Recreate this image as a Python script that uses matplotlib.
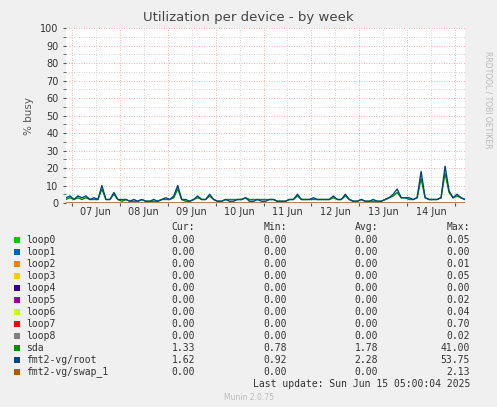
import matplotlib.pyplot as plt
import matplotlib.dates as mdates
from datetime import datetime, timedelta

start = datetime(2025, 6, 6, 21, 0)
root = [3, 4, 2, 4, 3, 4, 2, 3, 2, 10, 2, 2, 6, 2, 2, 2, 1, 2, 1, 2, 1, 1, 2, 1, 2, 3, 2, 4, 10, 2, 2, 1, 2, 4, 2, 2,
        5, 2, 1, 1, 2, 1, 1, 2, 2, 3, 1, 1, 2, 1, 1, 2, 2, 1, 1, 1, 2, 2, 5, 2, 2, 2, 3, 2, 2, 2, 2, 4, 2, 2, 5, 2,
        1, 1, 2, 1, 1, 2, 1, 1, 2, 3, 5, 8, 3, 3, 3, 2, 3, 18, 3, 2, 2, 2, 3, 21, 7, 3, 5, 3, 2]
sda = [2, 3, 2, 3, 2, 3, 2, 2, 2, 8, 2, 2, 5, 2, 1, 2, 1, 1, 1, 2, 1, 1, 1, 1, 2, 2, 2, 3, 8, 2, 1, 1, 2, 3, 2, 2,
       4, 2, 1, 1, 2, 2, 2, 2, 2, 3, 2, 2, 2, 2, 2, 2, 2, 1, 1, 1, 2, 2, 4, 2, 2, 2, 2, 2, 2, 2, 2, 3, 2, 2, 4, 2,
       1, 1, 2, 1, 1, 1, 1, 1, 2, 3, 4, 6, 3, 3, 2, 2, 3, 14, 3, 2, 2, 2, 3, 17, 6, 3, 4, 3, 2]
times = [start + timedelta(hours=2 * i) for i in range(len(root))]

names = ["loop0", "loop1", "loop2", "loop3", "loop4", "loop5", "loop6", "loop7", "loop8",
         "sda", "fmt2-vg/root", "fmt2-vg/swap_1"]
colors = ["#00CC00", "#0066B3", "#FF8000", "#FFCC00", "#330099", "#990099", "#CCFF00", "#FF0000",
          "#808080", "#008F00", "#00487D", "#B35A00"]
cur = ["0.00"] * 9 + ["1.33", "1.62", "0.00"]
mins = ["0.00"] * 9 + ["0.78", "0.92", "0.00"]
avgs = ["0.00"] * 9 + ["1.78", "2.28", "0.00"]
maxs = ["0.05", "0.00", "0.01", "0.05", "0.00", "0.02", "0.04", "0.70", "0.02", "41.00", "53.75", "2.13"]

W, H = 497, 407
fig = plt.figure(figsize=(W / 100, H / 100), dpi=100, facecolor="#F0F0F0")
ax = fig.add_axes([66 / W, 1 - 203 / H, (465 - 66) / W, (203 - 28) / H])
ax.set_facecolor("white")

zeros = [0] * len(root)
for n, c in zip(names[:9], colors[:9]):
    ax.plot(times, zeros, color=c, lw=1)
ax.plot(times, sda, color=colors[9], lw=1)
ax.plot(times, root, color=colors[10], lw=1)

ax.set_ylim(0, 100)
ax.set_xlim(start, datetime(2025, 6, 15, 5, 0))
ax.set_yticks(range(0, 101, 10))
ax.set_yticks(range(0, 101, 5), minor=True)
# red grid lines at midnight, labels centred at noon
ax.xaxis.set_major_locator(mdates.DayLocator())
ax.xaxis.set_major_formatter(plt.NullFormatter())
ax.xaxis.set_minor_locator(mdates.HourLocator(byhour=[12]))
ax.xaxis.set_minor_formatter(mdates.DateFormatter("%d %b"))
ax.grid(True, which="major", color="#E8A0A0", ls=(0, (1, 2)), lw=0.6)
ax.grid(True, which="minor", color="#C8C8C8", ls=(0, (1, 2)), lw=0.6)
for s in ax.spines.values():
    s.set_visible(False)
ax.axhline(0, color="#E8A0A0", lw=0.8)
ax.tick_params(labelsize=7, colors="#555555", length=2, which="both")
ax.tick_params(axis="x", which="minor", pad=3, length=0)
for lab in ax.get_xticklabels(minor=True) + ax.get_yticklabels():
    lab.set_color("#333333")
ax.set_ylabel("% busy", fontsize=7.5, color="#555555")

fig.text(0.5, 1 - 18 / H, "Utilization per device - by week", ha="center", va="center",
         fontsize=9.5, color="#444444")
fig.text(488 / W, 1 - 100 / H, "RRDTOOL / TOBI OETIKER", rotation=270, ha="center", va="center",
         fontsize=5.5, color="#BBBBBB")

fs = 7
mono = "DejaVu Sans Mono"
for xr, t in zip([195, 287, 378, 470], ["Cur:", "Min:", "Avg:", "Max:"]):
    fig.text(xr / W, 1 - 227 / H, t, ha="right", va="center", fontsize=fs, family=mono, color="#333")
for i, n in enumerate(names):
    y = 1 - (240 + i * 12) / H
    fig.patches.append(plt.Rectangle((14 / W, y - 3 / H), 6 / W, 6 / H, transform=fig.transFigure,
                                     facecolor=colors[i], edgecolor="none"))
    fig.text(26 / W, y, n, va="center", fontsize=fs, family=mono, color="#333")
    for xr, v in zip([195, 287, 378, 470], [cur[i], mins[i], avgs[i], maxs[i]]):
        fig.text(xr / W, y, v, va="center", ha="right", fontsize=fs, family=mono, color="#333")
fig.text(470 / W, 1 - 384 / H, "Last update: Sun Jun 15 05:00:04 2025", ha="right", va="center",
         fontsize=fs, family=mono, color="#333")
fig.text(0.5, 1 - 397 / H, "Munin 2.0.75", ha="center", va="center", fontsize=5.5, color="#BBBBBB")

fig.savefig("out.png", dpi=100, facecolor=fig.get_facecolor())
